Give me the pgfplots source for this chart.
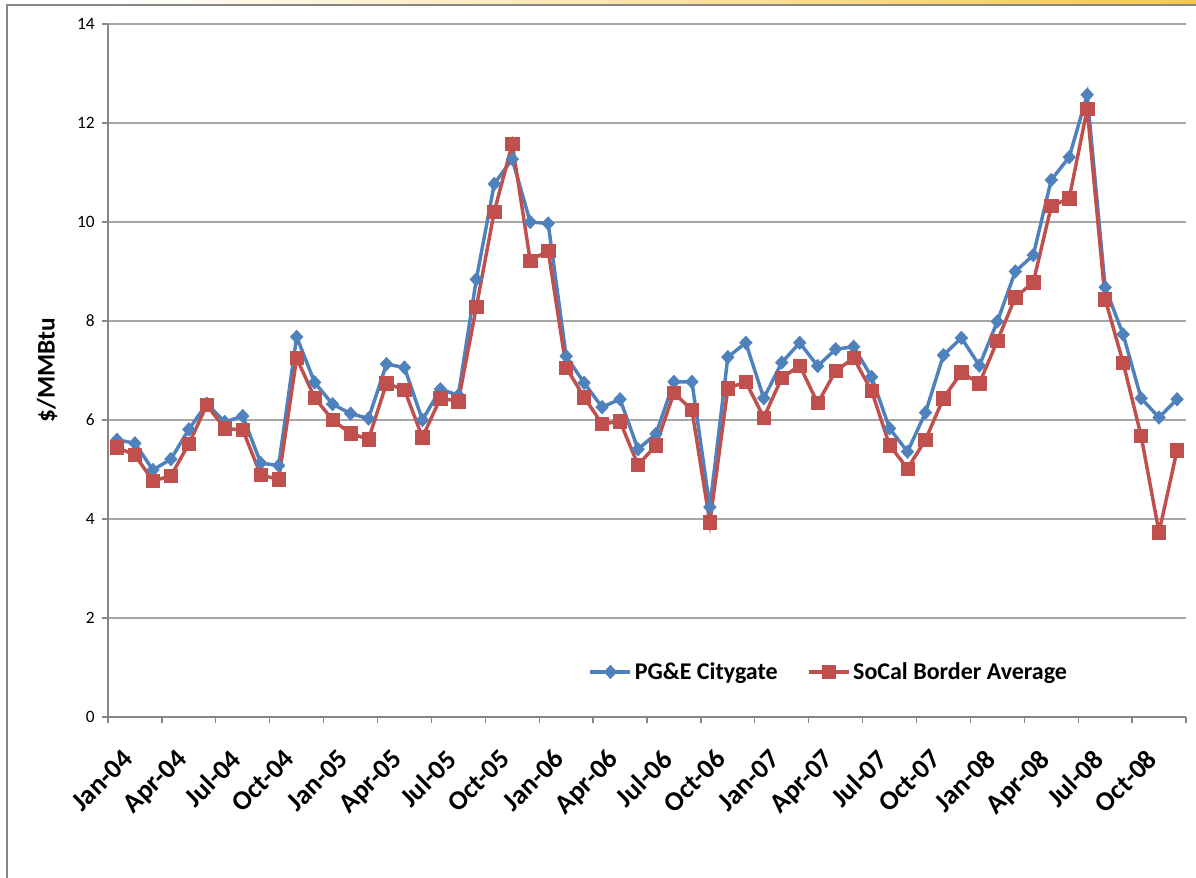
\documentclass[border=0pt]{standalone}
\usepackage{pgfplots}
\pgfplotsset{compat=1.18}
\usepackage{fontspec}
\setmainfont{Carlito}
\definecolor{pgblue}{HTML}{4F81BD}
\definecolor{scred}{HTML}{C0504D}
\definecolor{gridc}{HTML}{A6A6A6}
\definecolor{axc}{HTML}{868686}
\definecolor{gold}{HTML}{F7C84A}
\begin{document}
\begin{tikzpicture}
\path[use as bounding box] (0pt,0pt) rectangle (897pt,658.5pt);
\shade[left color=white, right color=gold] (75pt,655.5pt) rectangle (897pt,658.5pt);
\draw[axc, line width=1pt] (5.25pt,0pt) -- (5.25pt,654.75pt) -- (897pt,654.75pt);
\begin{axis}[
  at={(81pt,120.75pt)}, anchor=south west,
  scale only axis, width=808.5pt, height=519.75pt,
  xmin=-0.5, xmax=59.5, ymin=0, ymax=14,
  axis lines*=left,
  axis line style={axc, line width=1.2pt},
  tick align=outside,
  major tick length=4.5pt,
  tick style={axc, line width=1pt},
  ytick={0,2,...,14},
  ymajorgrids,
  grid style={gridc, line width=1.1pt},
  xtick={-0.5,2.5,...,59.5},
  xticklabels={Jan-04,Apr-04,Jul-04,Oct-04,Jan-05,Apr-05,Jul-05,Oct-05,Jan-06,Apr-06,Jul-06,Oct-06,Jan-07,Apr-07,Jul-07,Oct-07,Jan-08,Apr-08,Jul-08,Oct-08,{}},
  xticklabel style={xshift=10pt, yshift=-17pt, rotate=45, anchor=north east, inner sep=1pt, font=\bfseries\fontsize{20.5}{20.5}\selectfont},
  yticklabel style={xshift=-2pt, font=\fontsize{13}{13}\selectfont},
  /pgf/number format/assume math mode=true,
  ylabel={\$/MMBtu},
  ylabel style={at={(axis description cs:-0.0566,0.5)}, anchor=center, font=\bfseries\fontsize{19}{19}\selectfont},
  legend columns=2,
  legend style={at={(0.669,0.065)}, anchor=center, draw=none, fill=none,
     font=\bfseries\fontsize{18}{18}\selectfont,
     /tikz/every even column/.append style={column sep=20pt}},
  legend image code/.code={\draw[#1, mark repeat=2, mark phase=2] plot coordinates {(0pt,0pt) (15pt,0pt) (30pt,0pt)};},
]
\addplot[pgblue, line width=2.6pt, mark=diamond*, mark size=5pt, mark options={solid, fill=pgblue, line width=0.5pt, xscale=1.25}] coordinates {
(0,5.60) (1,5.53) (2,4.99) (3,5.21) (4,5.81) (5,6.33) (6,5.96) (7,6.08) (8,5.13) (9,5.08)
(10,7.68) (11,6.76) (12,6.32) (13,6.13) (14,6.03) (15,7.13) (16,7.06) (17,6.00) (18,6.62) (19,6.50)
(20,8.84) (21,10.77) (22,11.27) (23,10.00) (24,9.97) (25,7.29) (26,6.75) (27,6.26) (28,6.42) (29,5.41)
(30,5.72) (31,6.77) (32,6.77) (33,4.24) (34,7.27) (35,7.56) (36,6.44) (37,7.16) (38,7.56) (39,7.09)
(40,7.43) (41,7.48) (42,6.87) (43,5.83) (44,5.36) (45,6.15) (46,7.31) (47,7.66) (48,7.10) (49,7.99)
(50,9.00) (51,9.33) (52,10.85) (53,11.31) (54,12.57) (55,8.68) (56,7.73) (57,6.44) (58,6.05) (59,6.42)
};
\addlegendentry{PG\&E Citygate}
\addplot[scred, line width=2.6pt, mark=square*, mark size=5pt, mark options={solid, fill=scred, line width=0.5pt}] coordinates {
(0,5.45) (1,5.29) (2,4.77) (3,4.87) (4,5.52) (5,6.30) (6,5.83) (7,5.80) (8,4.89) (9,4.80)
(10,7.25) (11,6.45) (12,6.00) (13,5.73) (14,5.61) (15,6.74) (16,6.61) (17,5.65) (18,6.44) (19,6.38)
(20,8.28) (21,10.21) (22,11.58) (23,9.22) (24,9.42) (25,7.06) (26,6.46) (27,5.92) (28,5.97) (29,5.09)
(30,5.49) (31,6.55) (32,6.20) (33,3.93) (34,6.64) (35,6.77) (36,6.05) (37,6.85) (38,7.10) (39,6.34)
(40,6.99) (41,7.25) (42,6.59) (43,5.49) (44,5.02) (45,5.60) (46,6.44) (47,6.96) (48,6.74) (49,7.60)
(50,8.48) (51,8.78) (52,10.32) (53,10.48) (54,12.28) (55,8.44) (56,7.16) (57,5.68) (58,3.73) (59,5.39)
};
\addlegendentry{SoCal Border Average}
\end{axis}
\end{tikzpicture}
\end{document}
